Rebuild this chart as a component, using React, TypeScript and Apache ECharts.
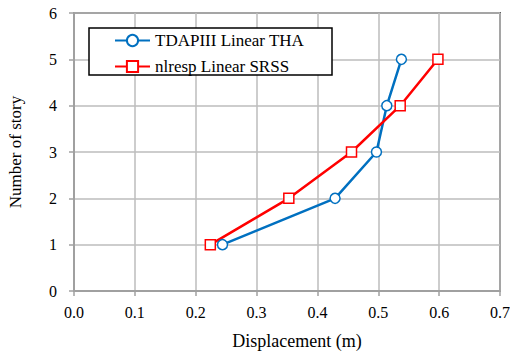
import React, { useEffect, useRef } from "react";
import * as echarts from "echarts";

const stories = [1, 2, 3, 4, 5];
const tdapDisp = [0.244, 0.429, 0.497, 0.514, 0.538];
const nlrespDisp = [0.224, 0.353, 0.456, 0.536, 0.598];
const seriesNames = ["TDAPIII Linear THA", "nlresp Linear SRSS"];
const xTitle = "Displacement (m)";
const yTitle = "Number of story";

const FONT = "Times New Roman";

export default function App() {
  const ref = useRef<HTMLDivElement>(null);
  useEffect(() => {
    document.body.style.margin = "0";
    if (!ref.current) return;
    const chart = echarts.init(ref.current, undefined, { renderer: "svg" });
    const pair = (xs: number[]) => xs.map((x, i) => [x, stories[i]]);
    chart.setOption({
      animation: false,
      backgroundColor: "#ffffff",
      textStyle: { fontFamily: FONT },
      grid: {
        left: 74,
        right: 10,
        top: 13,
        bottom: 60,
        show: true,
        borderColor: "#5f5f5f",
        borderWidth: 2,
        containLabel: false,
        outerBoundsMode: "none",
      },
      xAxis: {
        type: "value",
        min: 0,
        max: 0.7,
        interval: 0.1,
        name: xTitle,
        nameLocation: "middle",
        nameGap: 41,
        nameTextStyle: { fontFamily: FONT, fontSize: 18, color: "#000", padding: [0, 0, 0, 20] },
        axisLine: { show: true, lineStyle: { color: "#a0a0a0", width: 2 } },
        axisTick: { show: true, length: 5, lineStyle: { color: "#a0a0a0", width: 1.5 } },
        axisLabel: {
          fontFamily: FONT,
          fontSize: 16,
          color: "#000",
          margin: 13,
          formatter: (v: number) => v.toFixed(1),
        },
        splitLine: { show: true, lineStyle: { color: "#bcbcbc", width: 1.5 } },
      },
      yAxis: {
        type: "value",
        min: 0,
        max: 6,
        interval: 1,
        name: yTitle,
        nameLocation: "middle",
        nameGap: 50,
        nameRotate: 90,
        nameTextStyle: { fontFamily: FONT, fontSize: 17, color: "#000" },
        axisLine: { show: true, lineStyle: { color: "#a0a0a0", width: 2 } },
        axisTick: { show: true, length: 5, lineStyle: { color: "#a0a0a0", width: 1.5 } },
        axisLabel: { fontFamily: FONT, fontSize: 16, color: "#000", margin: 17 },
        splitLine: { show: true, lineStyle: { color: "#bcbcbc", width: 1.5 } },
      },
      graphic: [
        {
          type: "rect",
          z: 3,
          shape: { x: 89, y: 28, width: 243, height: 47 },
          style: { fill: "#ffffff", stroke: "#000000", lineWidth: 1.5 },
        },
      ],
      legend: {
        z: 5,
        orient: "vertical",
        left: 114,
        top: 32,
        padding: 0,
        itemWidth: 35,
        itemHeight: 14,
        itemGap: 9,
        textStyle: { fontFamily: FONT, fontSize: 17, color: "#000" },
        data: seriesNames,
      },
      series: [
        {
          name: seriesNames[0],
          type: "line",
          data: pair(tdapDisp),
          symbol: "circle",
          symbolSize: 10,
          lineStyle: { color: "#0070c0", width: 2.5 },
          itemStyle: { color: "#ffffff", borderColor: "#0070c0", borderWidth: 1.5 },
          z: 2,
        },
        {
          name: seriesNames[1],
          type: "line",
          data: pair(nlrespDisp),
          symbol: "rect",
          symbolSize: 10,
          lineStyle: { color: "#ff0000", width: 2.5 },
          itemStyle: { color: "#ffffff", borderColor: "#ff0000", borderWidth: 1.5 },
          z: 2,
        },
      ],
    });
    return () => chart.dispose();
  }, []);
  return <div ref={ref} style={{ width: 510, height: 351 }} />;
}
